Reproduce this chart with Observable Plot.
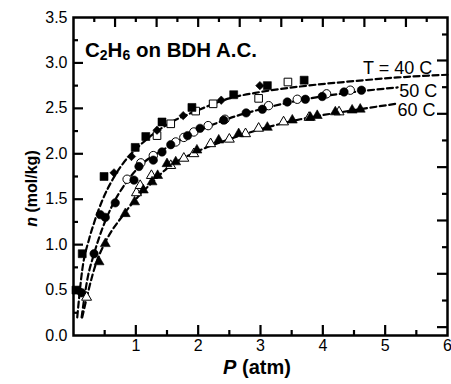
<!DOCTYPE html>
<html><head><meta charset="utf-8">
<script src="https://cdn.jsdelivr.net/npm/d3@7"></script>
<script src="https://cdn.jsdelivr.net/npm/@observablehq/plot@0.6"></script>
<style>
html,body{margin:0;padding:0;background:#fff;}
#chart svg{display:block;}
</style></head><body><div id="chart"></div>
<script>
// ---- data ----
// 40 C
const sq40P = [0.04,0.14,0.49,0.99,1.16,1.42,1.90,2.57,3.11,3.70];
const sq40N = [0.50,0.90,1.75,2.07,2.19,2.35,2.51,2.65,2.75,2.81];
const osq40P = [1.34,1.56,1.96,2.24,2.97,3.44];
const osq40N = [2.20,2.33,2.47,2.55,2.61,2.79];
const dm40P = [0.10,0.65,0.93,1.34,1.76,2.37,2.99];
const dm40N = [0.49,1.79,1.97,2.26,2.42,2.59,2.75];
// 50 C
const ci50P = [0.13,0.33,0.43,0.51,0.67,0.97,1.05,1.28,1.42,1.56,1.83,2.03,2.41,2.77,3.03,3.43,3.72,3.99,4.34,4.62];
const ci50N = [0.47,0.90,1.33,1.30,1.46,1.71,1.86,1.93,2.02,2.10,2.20,2.28,2.37,2.45,2.49,2.57,2.60,2.63,2.68,2.70];
const oci50P = [0.86,1.08,1.28,1.64,1.77,1.93,2.16,2.43,3.13,3.59,4.06,4.44];
const oci50N = [1.72,1.90,1.98,2.13,2.18,2.24,2.31,2.38,2.53,2.60,2.66,2.70];
// 60 C
const tr60P = [0.41,0.51,0.83,0.98,1.12,1.26,1.35,1.50,1.64,1.98,2.33,2.65,3.11,3.51,3.80,3.91,4.20,4.47,4.60];
const tr60N = [0.81,1.01,1.34,1.47,1.60,1.69,1.76,1.89,1.91,2.04,2.15,2.22,2.29,2.37,2.40,2.42,2.46,2.48,2.49];
const otr60P = [0.21,1.01,1.07,1.25,1.56,1.77,1.93,2.20,2.50,2.76,2.97,3.37,3.78,4.26];
const otr60N = [0.42,1.57,1.65,1.76,1.87,1.95,2.00,2.11,2.16,2.22,2.28,2.35,2.40,2.46];
// fitted (dashed) curves
const fit40P = [0.06,0.14,0.25,0.33,0.47,0.63,0.79,1.0,1.5,2.0,2.5,3.0,3.63,4.5,5.2,6.0];
const fit40N = [0.20,0.72,1.06,1.24,1.50,1.72,1.89,2.05,2.32,2.48,2.61,2.68,2.74,2.80,2.84,2.87];
const fit50P = [0.13,0.22,0.33,0.47,0.60,0.84,1.03,1.5,2.0,2.5,3.0,3.64,4.5,5.2];
const fit50N = [0.20,0.61,0.90,1.19,1.40,1.68,1.84,2.07,2.25,2.39,2.49,2.59,2.68,2.73];
const fit60P = [0.14,0.36,0.52,0.79,1.0,1.27,1.5,2.0,2.5,3.0,3.64,4.5,5.17];
const fit60N = [0.20,0.79,1.04,1.32,1.50,1.69,1.84,2.03,2.16,2.27,2.38,2.48,2.55];
// curve labels
const curveLabels = ["T = 40 C","50 C","60 C"];
const curveLabelP = [5.755,5.835,5.808];
const curveLabelN = [2.880,2.630,2.421];
// tick values
const xTickLabels = [1,2,3,4,5,6];
const xMajor = [1,2,3,4,5];
const xMinor = [0.5,1.5,2.5,3.5,4.5,5.5];
const yTickLabels = [0,0.5,1,1.5,2,2.5,3,3.5];
const yMajor = [0.5,1,1.5,2,2.5,3];
const yMinor = [0.25,0.75,1.25,1.75,2.25,2.75,3.25];
const topMajor = [2/3,4/3,2,8/3,10/3,4,14/3,16/3];
const topMinor = [1/3,1,5/3,7/3,3,11/3,13/3,5,17/3];
const rightMajor = [0.092,0.679,1.266,1.853,2.440,3.027];
const rightMinor = [0.385,0.972,1.559,2.147,2.733,3.313];

const pts = (P, N) => P.map((p, i) => ({P: p, n: N[i]}));

const W = 451, H = 384, mt = 17, mr = 4, mb = 49, ml = 73;
const iw = W - ml - mr, ih = H - mt - mb;
const xDom = [0, 6], yDom = [0, 3.5];
// tick lengths in pixels, converted to data units of each scale
const pxX = (xDom[1] - xDom[0]) / iw, pxY = (yDom[1] - yDom[0]) / ih;
const font = "'Liberation Sans', Arial, Helvetica, sans-serif";
const dash = {x: "P", y: "n", curve: "monotone-x", stroke: "black", strokeWidth: 2.2, strokeDasharray: "6,3.5"};
const filled = {x: "P", y: "n", fill: "black", stroke: "black", strokeWidth: 0.6};
const open = {x: "P", y: "n", fill: "white", stroke: "black", strokeWidth: 1};
const tstyle = {stroke: "black", strokeWidth: 2.2};
const bottomT = (data, len) => Plot.ruleX(data, {x: d => d, y1: yDom[0], y2: yDom[0] + len * pxY, ...tstyle});
const topT = (data, len) => Plot.ruleX(data, {x: d => d, y1: yDom[1] - len * pxY, y2: yDom[1], ...tstyle});
const leftT = (data, len) => Plot.ruleY(data, {y: d => d, x1: xDom[0], x2: xDom[0] + len * pxX, ...tstyle});
const rightT = (data, len) => Plot.ruleY(data, {y: d => d, x1: xDom[1] - len * pxX, x2: xDom[1], ...tstyle});

const chart = Plot.plot({
  width: W, height: H,
  marginTop: mt, marginRight: mr, marginBottom: mb, marginLeft: ml,
  style: {fontFamily: font, fontSize: "16px", color: "black", background: "white"},
  x: {domain: xDom},
  y: {domain: yDom},
  marks: [
    // inward ticks on all four sides
    bottomT(xMajor, 10), bottomT(xMinor, 5),
    topT(topMajor, 10), topT(topMinor, 5),
    leftT(yMajor, 10), leftT(yMinor, 5),
    rightT(rightMajor, 10), rightT(rightMinor, 5),
    Plot.line(pts(fit40P, fit40N), dash),
    Plot.line(pts(fit50P, fit50N), dash),
    Plot.line(pts(fit60P, fit60N), dash),
    Plot.dot(pts(oci50P, oci50N), {...open, symbol: "circle", r: 4.2}),
    Plot.dot(pts(ci50P, ci50N), {...filled, symbol: "circle", r: 4.2}),
    Plot.dot(pts(otr60P, otr60N), {...open, symbol: "triangle", r: 3.7}),
    Plot.dot(pts(tr60P, tr60N), {...filled, symbol: "triangle", r: 3.7}),
    Plot.dot(pts(osq40P, osq40N), {...open, symbol: "square", r: 4.3}),
    Plot.dot(pts(sq40P, sq40N), {...filled, symbol: "square", r: 4.5}),
    Plot.dot(pts(dm40P, dm40N), {...filled, symbol: "diamond2", r: 3.8}),
    Plot.frame({stroke: "black", strokeWidth: 2.5}),
    Plot.axisX(xTickLabels, {tickSize: 0, tickPadding: 4, label: null, fontSize: 16}),
    Plot.axisY(yTickLabels, {tickSize: 0, tickPadding: 6, label: null, fontSize: 16, tickFormat: d3.format(".1f")}),
    Plot.text(curveLabels, {x: (d, i) => curveLabelP[i], y: (d, i) => curveLabelN[i], text: d => d,
      textAnchor: "end", lineAnchor: "bottom", fontSize: 18, fill: "black"})
  ]
});

const svg = d3.select(chart);
// title inside the frame
const t = svg.append("text").attr("x", 85).attr("y", 56.5).attr("text-anchor", "start")
  .attr("font-family", font).attr("font-weight", "bold").attr("font-size", 20.5).attr("fill", "black");
t.append("tspan").text("C");
t.append("tspan").attr("font-size", 14).attr("dy", 3.5).text("2");
t.append("tspan").attr("dy", -3.5).text("H");
t.append("tspan").attr("font-size", 14).attr("dy", 3.5).text("6");
t.append("tspan").attr("dy", -3.5).text(" on BDH A.C.");
// x-axis label
const xl = svg.append("text").attr("x", 257).attr("y", 373.5).attr("text-anchor", "middle")
  .attr("font-family", font).attr("font-weight", "bold").attr("font-size", 20).attr("fill", "black");
xl.append("tspan").attr("font-style", "italic").text("P");
xl.append("tspan").text(" (atm)");
// y-axis label
const yl = svg.append("text").attr("transform", "translate(37,188.5) rotate(-90)").attr("text-anchor", "middle")
  .attr("font-family", font).attr("font-weight", "bold").attr("font-size", 16).attr("fill", "black");
yl.append("tspan").attr("font-style", "italic").text("n");
yl.append("tspan").text(" (mol/kg)");

document.getElementById("chart").appendChild(chart);
</script>
</body></html>
